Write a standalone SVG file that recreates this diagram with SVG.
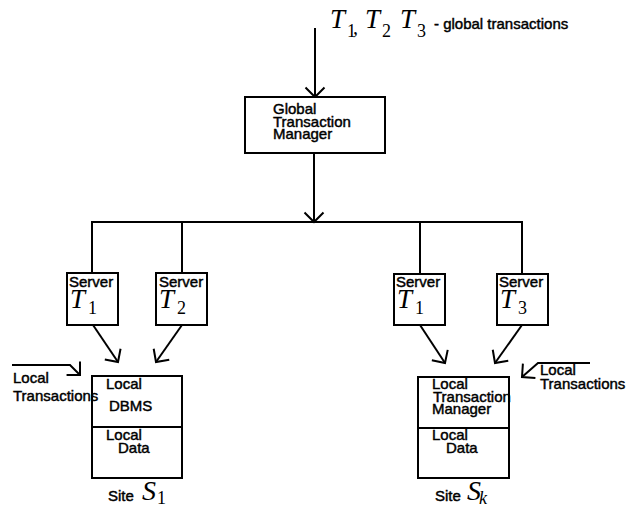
<svg xmlns="http://www.w3.org/2000/svg" width="631" height="508" viewBox="0 0 631 508">
<style>
.box{fill:#fff;stroke:#000;stroke-width:2}
.ln{fill:none;stroke:#000;stroke-width:2}
.t{font-family:"Liberation Sans",Arial,sans-serif;font-size:15px;fill:#000;stroke:#000;stroke-width:0.45}
.m{font-family:"Liberation Serif","Times New Roman",serif;font-style:italic;fill:#000}
.big{font-size:27px}
.sub{font-family:"Liberation Serif","Times New Roman",serif;font-size:18px;fill:#000}
</style>
<defs>
<marker id="ah" viewBox="-11 -11 13 22" refX="0" refY="0" markerWidth="13" markerHeight="22" markerUnits="userSpaceOnUse" orient="auto">
<path d="M-9.5,-9.5 L0,0 L-9.5,9.5" fill="none" stroke="#000" stroke-width="2"/>
</marker>
</defs>
<g id="connectors">
<line class="ln" x1="315" y1="28" x2="315" y2="97" marker-end="url(#ah)"/>
<line class="ln" x1="314" y1="153" x2="314" y2="222" marker-end="url(#ah)"/>
<polyline class="ln" points="92,273 92,222 522,222 522,274"/>
<line class="ln" x1="182" y1="222" x2="182" y2="273"/>
<line class="ln" x1="420" y1="222" x2="420" y2="274"/>
<line class="ln" x1="93" y1="325" x2="118" y2="362" marker-end="url(#ah)"/>
<line class="ln" x1="182" y1="325" x2="156" y2="362" marker-end="url(#ah)"/>
<line class="ln" x1="420" y1="325" x2="445" y2="363" marker-end="url(#ah)"/>
<line class="ln" x1="522" y1="325" x2="495" y2="363" marker-end="url(#ah)"/>
<polyline class="ln" points="12,365 70,365 80,375" marker-end="url(#ah)"/>
<polyline class="ln" points="590,363 538,363 522,377" marker-end="url(#ah)"/>
</g>
<g id="top-label">
<text class="m big" x="330" y="28">T</text><text class="sub" x="347" y="37">1</text><text class="m" style="font-size:20px" x="353" y="34">,</text>
<text class="m big" x="365" y="28">T</text><text class="sub" x="382" y="37">2</text>
<text class="m big" x="400" y="28">T</text><text class="sub" x="417" y="37">3</text>
<text class="t" x="434" y="29">- global transactions</text>
</g>
<g id="gtm">
<rect class="box" x="245" y="97" width="140" height="56"/>
<text class="t" x="273" y="114">Global</text>
<text class="t" x="273" y="127">Transaction</text>
<text class="t" x="273" y="139">Manager</text>
</g>
<g id="server1">
<rect class="box" x="67" y="273" width="51" height="52"/>
<text class="t" x="69" y="287">Server</text>
<text class="m big" x="70" y="308">T</text><text class="sub" x="88" y="314">1</text>
</g>
<g id="server2">
<rect class="box" x="156" y="273" width="51" height="52"/>
<text class="t" x="159" y="287">Server</text>
<text class="m big" x="159" y="308">T</text><text class="sub" x="177" y="314">2</text>
</g>
<g id="server3">
<rect class="box" x="394" y="274" width="51" height="51"/>
<text class="t" x="396" y="287">Server</text>
<text class="m big" x="397" y="308">T</text><text class="sub" x="415" y="314">1</text>
</g>
<g id="server4">
<rect class="box" x="497" y="274" width="51" height="51"/>
<text class="t" x="499" y="287">Server</text>
<text class="m big" x="500" y="308">T</text><text class="sub" x="518" y="314">3</text>
</g>
<g id="site1">
<rect class="box" x="92" y="376" width="90" height="102"/>
<line class="ln" x1="92" y1="427" x2="182" y2="427"/>
<text class="t" x="106" y="389">Local</text>
<text class="t" x="109" y="411">DBMS</text>
<text class="t" x="106" y="440">Local</text>
<text class="t" x="118" y="453">Data</text>
<text class="t" x="108" y="501">Site</text>
<text class="m" style="font-size:28px" x="142" y="500">S</text><text class="sub" x="157" y="504">1</text>
</g>
<g id="sitek">
<rect class="box" x="418" y="377" width="91" height="101"/>
<line class="ln" x1="418" y1="428" x2="509" y2="428"/>
<text class="t" x="432" y="389">Local</text>
<text class="t" x="433" y="402">Transaction</text>
<text class="t" x="432" y="414">Manager</text>
<text class="t" x="432" y="440">Local</text>
<text class="t" x="446" y="453">Data</text>
<text class="t" x="435" y="501">Site</text>
<text class="m" style="font-size:28px" x="467" y="500">S</text><text class="m" style="font-size:18px" x="479" y="504">k</text>
</g>
<g id="local-trans-left">
<text class="t" x="13" y="383">Local</text>
<text class="t" x="13" y="401">Transactions</text>
</g>
<g id="local-trans-right">
<text class="t" x="540" y="375">Local</text>
<text class="t" x="540" y="389">Transactions</text>
</g>
</svg>
